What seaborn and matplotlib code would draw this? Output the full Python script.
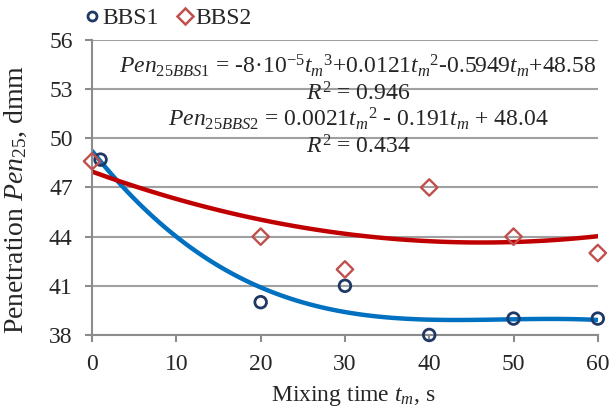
import matplotlib
matplotlib.use("Agg")
import matplotlib.pyplot as plt
import seaborn as sns
import pandas as pd
from matplotlib.lines import Line2D

# measured penetration values
time_bbs1 = [1, 20, 30, 40, 50, 60]
pen_bbs1 = [48.7, 40, 41, 38, 39, 39]
time_bbs2 = [0, 20, 30, 40, 50, 60]
pen_bbs2 = [48.6, 44, 42, 47, 44, 43]

x_ticks = [0, 10, 20, 30, 40, 50, 60]
y_ticks = [38, 41, 44, 47, 50, 53, 56]

eq_bbs1 = r"$\mathit{Pen}_{\mathit{25BBS1}}$ = -8·10$^{-5}$$t_m{}^{3}$+0.0121$t_m{}^{2}$-0.5949$t_m$+48.58"
r2_bbs1 = r"$R^2$ = 0.946"
eq_bbs2 = r"$\mathit{Pen}_{\mathit{25BBS2}}$ = 0.0021$t_m{}^{2}$ - 0.191$t_m$ + 48.04"
r2_bbs2 = r"$R^2$ = 0.434"

df1 = pd.DataFrame({'t': time_bbs1, 'pen': pen_bbs1})
df2 = pd.DataFrame({'t': time_bbs2, 'pen': pen_bbs2})

sns.set_style("white")
plt.rcParams['font.family'] = ['Liberation Serif', 'DejaVu Serif']
plt.rcParams['mathtext.fontset'] = 'custom'
plt.rcParams['mathtext.rm'] = 'Liberation Serif'
plt.rcParams['mathtext.it'] = 'Liberation Serif:italic'

grey = '#8c8c8c'
fig = plt.figure(figsize=(6.1, 4.08), dpi=100)
ax = fig.add_axes([0.151, 0.179, 0.829, 0.723])
ax.set_xlim(0, 60)
ax.set_ylim(38, 56)

# trend lines (polynomial fits of the measured points)
sns.regplot(data=df1, x='t', y='pen', order=3, ci=None, scatter=False, truncate=False,
            line_kws={'color': '#0070C0', 'lw': 3.2}, ax=ax)
sns.regplot(data=df2, x='t', y='pen', order=2, ci=None, scatter=False, truncate=False,
            line_kws={'color': '#C00000', 'lw': 3.2}, ax=ax)

# measured points
sns.scatterplot(data=df1, x='t', y='pen', marker='o', s=70, facecolor='none',
                edgecolor='#1F3864', linewidth=2.0, ax=ax, clip_on=False, zorder=5)
sns.scatterplot(data=df2, x='t', y='pen', marker='D', s=70, facecolor='none',
                edgecolor='#C0504D', linewidth=1.7, ax=ax, clip_on=False, zorder=5)

ax.set_xlim(0, 60)
ax.set_ylim(38, 56)
ax.set_xticks(x_ticks)
ax.set_yticks(y_ticks)
ax.yaxis.grid(True, color='#a0a0a0', lw=1.5)
ax.set_axisbelow(True)
for s in ['top', 'right']:
    ax.spines[s].set_visible(False)
for s in ['left', 'bottom']:
    ax.spines[s].set_color(grey)
    ax.spines[s].set_linewidth(1.5)
ax.tick_params(axis='both', which='major', direction='out', length=5, width=1.5,
               color=grey, labelsize=17, left=True, bottom=True)
ax.tick_params(axis='y', pad=9)
ax.tick_params(axis='x', pad=9)

ax.set_xlabel(r"Mixing time $\mathit{t}_{m}$, s", fontsize=17)
ax.xaxis.set_label_coords(0.516, -0.165)
ax.set_ylabel(r"Penetration $\mathit{Pen}_{\mathit{25}}$, dmm", fontsize=20)
ax.yaxis.set_label_coords(-0.125, 0.46)

ax.text(0.526, 0.912, eq_bbs1, transform=ax.transAxes, ha='center', va='center', fontsize=17)
ax.text(0.526, 0.817, r2_bbs1, transform=ax.transAxes, ha='center', va='center', fontsize=17)
ax.text(0.526, 0.732, eq_bbs2, transform=ax.transAxes, ha='center', va='center', fontsize=17)
ax.text(0.526, 0.637, r2_bbs2, transform=ax.transAxes, ha='center', va='center', fontsize=17)

handles = [Line2D([], [], ls='', marker='o', ms=6.5, mfc='none', mec='#1F3864', mew=2.0),
           Line2D([], [], ls='', marker='D', ms=8, mfc='none', mec='#C0504D', mew=1.8)]
fig.legend(handles, ['BBS1', 'BBS2'], loc='center left', bbox_to_anchor=(0.135, 0.955),
           ncol=2, frameon=False, fontsize=17, handletextpad=0.05, columnspacing=0.7,
           handlelength=0.8, borderpad=0, borderaxespad=0)

fig.savefig('out.png', dpi=100)
